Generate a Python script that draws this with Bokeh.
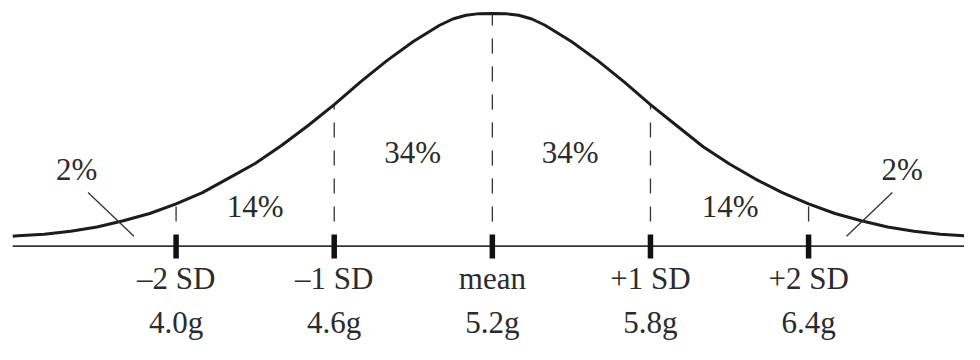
from bokeh.plotting import figure
from bokeh.models import Range1d, ColumnDataSource
from bokeh.core.properties import value
from bokeh.embed import file_html
from bokeh.resources import INLINE

# ---- data ----
curve_g = [3.38, 3.4, 3.5, 3.6, 3.7, 3.8, 3.9, 4.0, 4.1, 4.2, 4.3, 4.4, 4.5, 4.6,
           4.7, 4.8, 4.9, 5.0, 5.05, 5.1, 5.15, 5.2, 5.25, 5.3, 5.35, 5.4, 5.5, 5.6,
           5.7, 5.8, 5.9, 6.0, 6.1, 6.2, 6.3, 6.4, 6.5, 6.6, 6.7, 6.8, 6.9, 7.0]
curve_h = [4.2, 4.4, 5.1, 6.4, 8.2, 10.9, 14.0, 18.1, 23.0, 29.2, 35.5, 43.2, 51.7, 60.8,
           70.6, 79.7, 87.9, 94.9, 97.6, 99.2, 99.9, 100.0, 99.9, 99.2, 97.6, 94.9, 87.9, 79.7,
           70.6, 60.8, 51.7, 42.7, 35.3, 28.7, 23.0, 18.1, 14.0, 10.9, 8.2, 6.4, 5.1, 4.4]

tick_g = [4.0, 4.6, 5.2, 5.8, 6.4]
sd_labels = ["\u20132 SD", "\u20131 SD", "mean", "+1 SD", "+2 SD"]
gram_labels = ["4.0g", "4.6g", "5.2g", "5.8g", "6.4g"]

region_pct = [2, 14, 34, 34, 14, 2]

# ---- figure ----
FONT = value("Liberation Serif")
INK = "#1c1c1c"
TXT = "#2b2b2b"
FS = "31px"

p = figure(width=964, height=344, output_backend="svg", toolbar_location=None,
           x_range=Range1d(3.33375, 6.99160), y_range=Range1d(-42.300, 105.544),
           x_axis_location=None, y_axis_location=None, min_border=0,
           background_fill_color="white", border_fill_color="white")
p.outline_line_color = None
p.xgrid.visible = False
p.ygrid.visible = False

# baseline
p.segment(x0=[3.38], y0=[0], x1=[7.0], y1=[0], line_color="#333333", line_width=1.7)

# dashed verticals from tick top up to the curve
lookup = dict(zip(curve_g, curve_h))
tops = [lookup[g] for g in tick_g]
tick_top = 4.93
p.segment(x0=tick_g, y0=[tick_top] * len(tick_g), x1=tick_g, y1=tops,
          line_color="#333333", line_width=1.3, line_dash="15 13", line_dash_offset=15)

# thick tick marks
p.segment(x0=tick_g, y0=[tick_top] * len(tick_g), x1=tick_g, y1=[-5.34] * len(tick_g),
          line_color="#111111", line_width=5.5)

# the curve
p.line(curve_g, curve_h, line_color=INK, line_width=3.0, line_join="round")

# leader lines for the 2% tails
p.segment(x0=[3.666, 6.718], y0=[23.0, 23.0], x1=[3.840, 6.544], y1=[4.23, 4.23],
          line_color="#333333", line_width=1.3)

# text glyphs sit ~12px low with an alphabetic baseline; lift them
SHIFT = 5.0

pct_src = ColumnDataSource(dict(
    x=[3.623, 4.300, 4.898, 5.495, 6.102, 6.755],
    y=[27.8 + SHIFT, 11.8 + SHIFT, 35.3 + SHIFT, 35.3 + SHIFT, 11.8 + SHIFT, 27.8 + SHIFT],
    t=[f"{v}%" for v in region_pct]))
p.text(x="x", y="y", text="t", source=pct_src, text_font=FONT, text_font_size=FS,
       text_color=TXT, text_align="center", text_baseline="alphabetic")

# tick labels
p.text(x=tick_g, y=[-19.01 + SHIFT] * len(tick_g), text=sd_labels, text_font=FONT,
       text_font_size=FS, text_color=TXT, text_align="center",
       text_baseline="alphabetic")
p.text(x=tick_g, y=[-37.8 + SHIFT] * len(tick_g), text=gram_labels, text_font=FONT,
       text_font_size=FS, text_color=TXT, text_align="center",
       text_baseline="alphabetic")

open("out.html", "w").write(file_html(p, INLINE))
